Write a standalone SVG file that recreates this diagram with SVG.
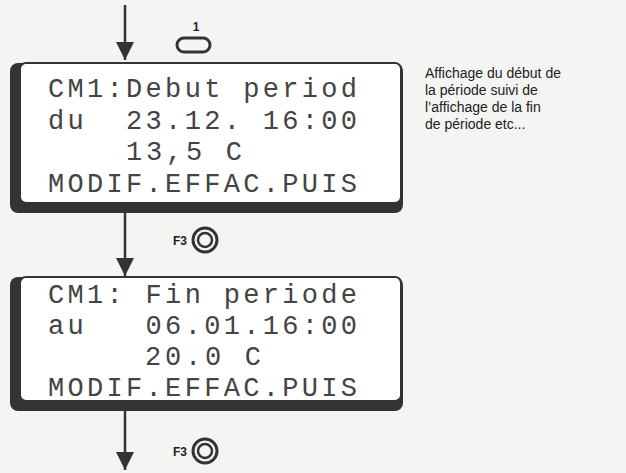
<svg xmlns="http://www.w3.org/2000/svg" width="626" height="473" viewBox="0 0 626 473">
<style>
.lcd{font-family:"Liberation Mono",monospace;font-size:27px;fill:#444}
.sh{fill:#333}
.box{fill:#fff;stroke:#333;stroke-width:2}
.ar{stroke:#333;stroke-width:2.5}
.note{font-family:"Liberation Sans",Arial,sans-serif;font-size:14px;fill:#222}
.f3{font-family:"Liberation Sans",Arial,sans-serif;font-size:12px;font-weight:bold;fill:#222}
</style>
<defs>
<marker id="a" viewBox="0 0 10 10" refX="10" refY="5" markerWidth="18" markerHeight="18" markerUnits="userSpaceOnUse" orient="auto"><path d="M0,0L10,5L0,10z" fill="#333"/></marker></defs>
<rect width="626" height="473" fill="#f4f4f2"/>
<g id="connectors">
<line class="ar" x1="125" y1="5" x2="125" y2="60" marker-end="url(#a)"/>
<line class="ar" x1="125" y1="212" x2="125" y2="276" marker-end="url(#a)"/>
<line class="ar" x1="125" y1="410" x2="125" y2="470" marker-end="url(#a)"/>
</g>
<g id="key1"><rect x="177" y="38" width="33" height="14" rx="7" fill="none" stroke="#333" stroke-width="3"/><text x="196" y="31" class="f3" font-weight="normal" text-anchor="middle">1</text></g>
<g id="screen1">
<rect class="sh" x="10" y="63" width="393" height="150" rx="8"/>
<rect class="box" x="20" y="63" width="381" height="140" rx="6"/>
<text class="lcd" x="48" y="97" textLength="309" lengthAdjust="spacing">CM1:Debut period</text>
<text class="lcd" x="48" y="129" textLength="309" xml:space="preserve">du  23.12. 16:00</text>
<text class="lcd" x="126" y="160" textLength="116">13,5 C</text>
<text class="lcd" x="48" y="192" textLength="309">MODIF.EFFAC.PUIS</text>
</g>
<g id="f3a"><text class="f3" x="173" y="245">F3</text><circle cx="205" cy="240" r="12" fill="none" stroke="#333" stroke-width="3"/><circle cx="205" cy="240" r="7" fill="none" stroke="#333" stroke-width="2.5"/></g>
<g id="screen2">
<rect class="sh" x="10" y="277" width="393" height="134" rx="8"/>
<rect class="box" x="20" y="277" width="381" height="124" rx="6"/>
<text class="lcd" x="48" y="303" textLength="309">CM1: Fin periode</text>
<text class="lcd" x="48" y="334" textLength="309" xml:space="preserve">au   06.01.16:00</text>
<text class="lcd" x="145" y="365" textLength="116">20.0 C</text>
<text class="lcd" x="48" y="396" textLength="309">MODIF.EFFAC.PUIS</text>
</g>
<g id="f3b"><text class="f3" x="173" y="456">F3</text><circle cx="205" cy="451" r="12" fill="none" stroke="#333" stroke-width="3"/><circle cx="205" cy="451" r="7" fill="none" stroke="#333" stroke-width="2.5"/></g>
<g id="note">
<text class="note" x="425" y="78">Affichage du début de</text>
<text class="note" x="425" y="95">la période suivi de</text>
<text class="note" x="425" y="112">l’affichage de la fin</text>
<text class="note" x="425" y="129">de période etc...</text>
</g>
</svg>
